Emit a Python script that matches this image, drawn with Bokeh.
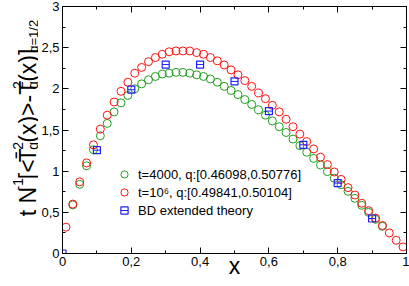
import math
from bokeh.plotting import figure
from bokeh.layouts import row
from bokeh.models import (Range1d, FixedTicker, LinearAxis, Legend, LegendItem,
                          CustomJSTickFormatter, ColumnDataSource,
                          CustomLabelingPolicy)
from bokeh.embed import file_html
from bokeh.resources import INLINE

# ---------------- data ----------------
x_red = [0.01, 0.03, 0.05, 0.07, 0.09, 0.11, 0.13, 0.15, 0.17, 0.19,
         0.21, 0.23, 0.25, 0.27, 0.29, 0.31, 0.33, 0.35, 0.37, 0.39,
         0.41, 0.43, 0.45, 0.47, 0.49, 0.51, 0.53, 0.55, 0.57, 0.59,
         0.61, 0.63, 0.65, 0.67, 0.69, 0.71, 0.73, 0.75, 0.77, 0.79,
         0.81, 0.83, 0.85, 0.87, 0.89, 0.91, 0.93, 0.95, 0.97, 0.99]
y_red = [0.32, 0.60, 0.87, 1.10, 1.32, 1.51, 1.68, 1.84, 1.97, 2.08,
         2.19, 2.26, 2.33, 2.38, 2.42, 2.45, 2.46, 2.46, 2.46, 2.44,
         2.42, 2.38, 2.34, 2.29, 2.23, 2.17, 2.10, 2.03, 1.95, 1.88,
         1.80, 1.72, 1.63, 1.54, 1.45, 1.36, 1.27, 1.17, 1.08, 0.99,
         0.90, 0.80, 0.71, 0.61, 0.52, 0.43, 0.34, 0.25, 0.16, 0.08]

x_green = [0.03, 0.05, 0.07, 0.09, 0.11, 0.13, 0.15, 0.17, 0.19,
           0.21, 0.23, 0.25, 0.27, 0.29, 0.31, 0.33, 0.35, 0.37, 0.39,
           0.41, 0.43, 0.45, 0.47, 0.49, 0.51, 0.53, 0.55, 0.57, 0.59,
           0.61, 0.63, 0.65, 0.67, 0.69, 0.71, 0.73, 0.75, 0.77, 0.79,
           0.81, 0.83, 0.85, 0.87, 0.89, 0.91, 0.93]
y_green = [0.59, 0.84, 1.065, 1.26, 1.43, 1.58, 1.72, 1.83, 1.92,
           2.00, 2.06, 2.11, 2.15, 2.18, 2.19, 2.20, 2.20, 2.19, 2.17,
           2.15, 2.12, 2.08, 2.03, 1.98, 1.93, 1.87, 1.81, 1.745, 1.68,
           1.61, 1.54, 1.47, 1.39, 1.31, 1.23, 1.155, 1.075, 0.995, 0.915,
           0.835, 0.755, 0.67, 0.585, 0.50, 0.415, 0.33]

x_bd = [0.0, 0.1, 0.2, 0.3, 0.4, 0.5, 0.6, 0.7, 0.8, 0.9]
y_bd = [0.0, 1.255, 1.99, 2.295, 2.295, 2.09, 1.73, 1.32, 0.855, 0.425]

labels = ["t=4000, q:[0.46098,0.50776]",
          "t=10\u2076, q:[0.49841,0.50104]",
          "BD extended theory"]

x_major = [0, 0.2, 0.4, 0.6, 0.8, 1.0]
x_minor = [0.1, 0.3, 0.5, 0.7, 0.9]
y_major = [0, 0.5, 1.0, 1.5, 2.0, 2.5, 3.0]
y_minor = [0.25, 0.75, 1.25, 1.75, 2.25, 2.75]

# pieces of the y-axis title: text, font size, baseline x, start y (pixels)
ylab_text = ["t N", "-1", "[<", "T\u0304", "q", "2", "(x)>-T", "q", "2", "(x)]", "q=1/2"]
ylab_size = ["23px", "14px", "23px", "23px", "14px", "14px", "23px", "14px", "14px", "23px", "13px"]
ylab_bx = [27, 17, 27, 27, 32, 17, 27, 32, 17, 27, 33]
ylab_sy = [243, 213, 200, 180.2, 166, 166, 157.7, 95.5, 95.5, 87.2, 53.5]

FONT = "Liberation Sans"
GREEN = "#1f9e1f"
RED = "#ff1010"
BLUE = "#2020ff"
W, H = 409, 286
LW = 38  # width of the y-title strip

# ---------------- main figure ----------------
p = figure(width=W - LW, height=H, output_backend="svg", toolbar_location=None,
           x_range=Range1d(0, 1), y_range=Range1d(0, 3),
           min_border_left=61 - LW, min_border_right=3, min_border_top=6,
           min_border_bottom=33)
p.xgrid.visible = False
p.ygrid.visible = False
p.outline_line_color = "black"

fmt = CustomJSTickFormatter(code="return (Math.round(tick*100)/100).toString().replace('.', ',');")
no_labels = CustomLabelingPolicy(code="return []")

def style_axis(ax, ticks, minor, show_labels):
    ax.ticker = FixedTicker(ticks=ticks, minor_ticks=minor)
    ax.major_tick_in = 6
    ax.major_tick_out = 0
    ax.minor_tick_in = 3
    ax.minor_tick_out = 0
    ax.axis_line_color = "black"
    ax.major_tick_line_color = "black"
    ax.minor_tick_line_color = "black"
    if show_labels:
        ax.formatter = fmt
        ax.major_label_text_font = FONT
        ax.major_label_text_font_size = "13px"
        ax.major_label_text_color = "black"
        ax.major_label_standoff = 3
    else:
        ax.major_label_policy = no_labels
        ax.major_label_text_font_size = "0px"
        ax.major_label_standoff = 0

bottom = p.xaxis[0]
left = p.yaxis[0]
style_axis(bottom, x_major, x_minor, True)
style_axis(left, y_major, y_minor, True)
bottom.axis_label = "x"
bottom.axis_label_text_font = FONT
bottom.axis_label_text_font_size = "23px"
bottom.axis_label_text_font_style = "normal"
bottom.axis_label_text_color = "black"
bottom.axis_label_standoff = -16

top = LinearAxis()
style_axis(top, x_major, x_minor, False)
p.add_layout(top, "above")
right = LinearAxis()
style_axis(right, y_major, y_minor, False)
p.add_layout(right, "right")

src_g = ColumnDataSource(dict(x=x_green, y=y_green))
src_r = ColumnDataSource(dict(x=x_red, y=y_red))
src_b = ColumnDataSource(dict(x=x_bd, y=y_bd))

rg = p.scatter("x", "y", source=src_g, marker="circle", size=8,
               fill_color=None, line_color=GREEN, line_width=1)
rr = p.scatter("x", "y", source=src_r, marker="circle", size=8,
               fill_color=None, line_color=RED, line_width=1)
rb = p.scatter("x", "y", source=src_b, marker="square", size=7,
               fill_color=None, line_color=BLUE, line_width=1.2)
rb2 = p.scatter("x", "y", source=src_b, marker="dash", size=7,
                line_color=BLUE, line_width=1)

legend = Legend(items=[LegendItem(label=labels[0], renderers=[rg]),
                       LegendItem(label=labels[1], renderers=[rr]),
                       LegendItem(label=labels[2], renderers=[rb, rb2])],
                location=(52, 34), padding=0, margin=0, spacing=0,
                glyph_height=18, glyph_width=20, label_height=18,
                label_standoff=4, label_text_font=FONT,
                label_text_font_size="13px", label_text_color="black",
                border_line_color=None, background_fill_alpha=0)
p.add_layout(legend)

# ---------------- y-title strip ----------------
q = figure(width=LW, height=H, output_backend="svg", toolbar_location=None,
           x_range=Range1d(0, LW), y_range=Range1d(0, H),
           x_axis_location=None, y_axis_location=None, title=None,
           min_border_left=0, min_border_right=0,
           min_border_top=0, min_border_bottom=0)
q.xgrid.visible = False
q.ygrid.visible = False
q.outline_line_color = None
src_t = ColumnDataSource(dict(x=ylab_bx, y=[H - v for v in ylab_sy],
                              text=ylab_text, size=ylab_size))
q.text(x="x", y="y", text="text", source=src_t, angle=math.pi / 2,
       text_font_size="size", text_align="left", text_baseline="alphabetic",
       text_font={"value": FONT}, text_color="black")

layout = row(q, p, spacing=0)
open("out.html", "w").write(file_html(layout, INLINE))
